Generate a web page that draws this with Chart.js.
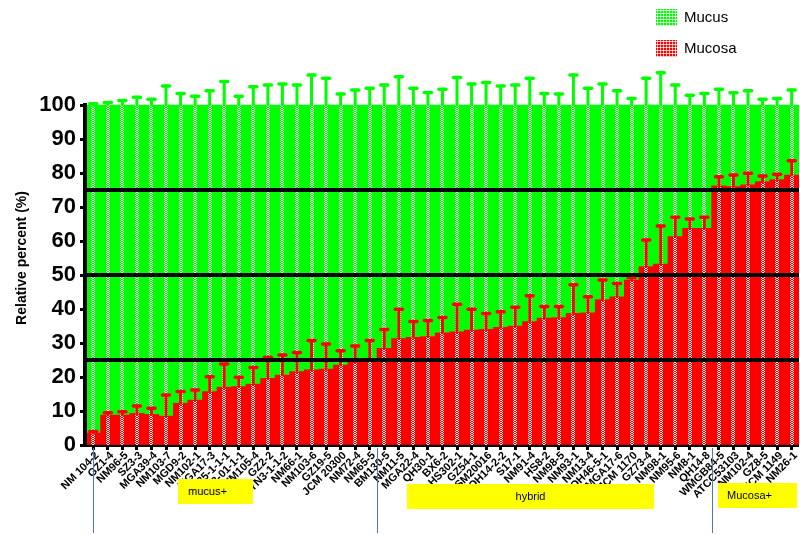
<!DOCTYPE html>
<html>
<head>
<meta charset="utf-8">
<script src="https://cdn.jsdelivr.net/npm/chart.js@4.4.1/dist/chart.umd.min.js"></script>
<style>
  html, body { margin: 0; padding: 0; background: #fff; }
  #wrap { position: relative; width: 800px; height: 535px; overflow: hidden;
          font-family: "Liberation Sans", Arial, sans-serif; }
  #wrap canvas { position: absolute; left: 0; top: 0; }
  .leg { position: absolute; left: 656px; height: 17px; width: 120px; }
  .leg .sw { position: absolute; left: 0; top: 0; width: 21px; height: 17px; box-sizing: border-box;
             background-image: radial-gradient(circle, rgba(255,255,255,0.95) 0.9px, transparent 1.3px);
             background-size: 3px 3px; }
  .leg span { position: absolute; left: 28px; top: -1px; font-size: 15px; line-height: 18px; color: #000; white-space: nowrap; }
  .grp { position: absolute; background: #ffff00; font-size: 11px; height: 25px; line-height: 25px; color: #000; white-space: nowrap; }
</style>
</head>
<body>
<div id="wrap">
  <canvas id="c" width="800" height="535"></canvas>
  <div class="leg" style="top:9px"><div class="sw" style="background-color:#00ff00"></div><span>Mucus</span></div>
  <div class="leg" style="top:40px"><div class="sw" style="background-color:#ff0000"></div><span>Mucosa</span></div>
  <div class="grp" style="left:178px;top:479px;width:75px;"><span style="padding-left:10px">mucus+</span></div>
  <div class="grp" style="left:407px;top:484px;width:247px;text-align:center;">hybrid</div>
  <div class="grp" style="left:718px;top:483px;width:79px;"><span style="padding-left:9px">Mucosa+</span></div>
</div>
<script>
// Strains on the x axis
const strains = ['NM 104-2','GZ1-4','NM96-5','SZ3-3','MGA39-4','NM103-7','MGD9-2','NM102-1','MGA17-3','YN35-1-1-1',
  'D13-01-1-1','NM105-4','GZ2-2','YN3-1-1-2','NM66-1','NM103-6','GZ19-5','JCM 20300','NM72-4','NM65-5',
  'BM130-5','NM11-5','MGA22-4','QH30-1','BX6-2','HS302-1','GZ54-1','DSM20016','QH14-2-2','S17-1',
  'NM91-4','HS8-2','NM98-5','NM93-1','NM13-4','QH46-5-1','MGA17-6','JCM 1170','GZ73-4','NM98-1',
  'NM95-6','NM8-1','QH14-8','WMGB84-5','ATCC53103','NM102-4','GZ8-5','JCM 1149','NM26-1'];

// Relative percent found in the mucosa fraction, and its upper error
const mucosa = [3.5, 8.8, 8.8, 9.3, 9.0, 8.5, 12.3, 13.2, 15.7, 17.0,
  17.2, 17.9, 19.6, 20.6, 21.6, 22.1, 22.3, 23.5, 24.5, 25.5,
  28.4, 31.3, 31.7, 31.9, 33.0, 33.3, 33.8, 34.0, 34.6, 35.0,
  36.3, 37.3, 37.5, 38.7, 38.9, 42.8, 43.6, 48.5, 52.5, 53.2,
  61.3, 63.7, 63.7, 76.2, 76.0, 76.5, 77.5, 78.1, 79.4];
const mucosaErr = [0.5, 0.7, 1.0, 2.2, 1.8, 6.2, 3.4, 3.0, 4.4, 6.8,
  2.7, 4.9, 6.2, 5.9, 5.6, 8.6, 7.4, 4.2, 4.6, 5.2,
  5.6, 8.6, 4.6, 4.7, 4.5, 8.1, 6.1, 4.7, 4.6, 5.5,
  7.6, 3.4, 3.2, 8.4, 4.7, 5.7, 3.9, 0.7, 7.8, 11.2,
  5.7, 2.8, 3.3, 2.7, 3.4, 3.4, 1.6, 1.5, 4.2];

// Relative percent found in the mucus fraction, and its upper error
const mucus = [96.5, 91.2, 91.2, 90.7, 91.0, 91.5, 87.7, 86.8, 84.3, 83.0,
  82.8, 82.1, 80.4, 79.4, 78.4, 77.9, 77.7, 76.5, 75.5, 74.5,
  71.6, 68.7, 68.3, 68.1, 67.0, 66.7, 66.2, 66.0, 65.4, 65.0,
  63.7, 62.7, 62.5, 61.3, 61.1, 57.2, 56.4, 51.5, 47.5, 46.8,
  38.7, 36.3, 36.3, 23.8, 24.0, 23.5, 22.5, 21.9, 20.6];
const mucusErr = [0.4, 0.7, 1.3, 2.3, 1.7, 5.6, 3.4, 2.6, 4.2, 6.9,
  2.6, 5.4, 5.9, 6.2, 5.9, 8.8, 7.9, 3.2, 4.4, 4.9,
  5.9, 8.3, 4.9, 3.7, 4.6, 8.1, 6.2, 6.6, 5.6, 5.9,
  7.9, 3.4, 3.2, 8.8, 4.9, 6.2, 4.2, 1.9, 7.9, 9.5,
  5.9, 2.9, 3.4, 4.6, 3.6, 4.2, 1.7, 1.9, 4.4];

// Threshold lines and y tick values
const thresholds = [25, 50, 75];
const yTicks = [0, 10, 20, 30, 40, 50, 60, 70, 80, 90, 100];

// First strain index of each group (mucus+, hybrid, Mucosa+)
const groupStarts = [0, 20, 43];

const FONT = '"Liberation Sans", Arial, sans-serif';

// small white dotted texture used down the middle of every bar
const tex = document.createElement('canvas');
tex.width = 4; tex.height = 4;
(function () {
  const t = tex.getContext('2d');
  t.fillStyle = 'rgba(255,255,255,0.95)';
  const cells = ['.WW.', 'W..W', '.WW.', 'W..W'];
  cells.forEach((row, r) => { for (let c = 0; c < 4; c++) if (row[c] === 'W') t.fillRect(c, r, 1, 1); });
})();

const overlay = {
  id: 'overlay',
  afterDatasetsDraw(chart) {
    const { ctx, chartArea, scales: { x, y } } = chart;
    const lowBars = chart.getDatasetMeta(0).data;
    const highBars = chart.getDatasetMeta(1).data;
    const pattern = ctx.createPattern(tex, 'repeat');
    const base = y.getPixelForValue(0);

    // dotted stripe in the middle of each stacked bar
    ctx.save();
    lowBars.forEach((bar, i) => {
      const cx = Math.round(bar.x) - 2;
      const top = Math.round(highBars[i].y);
      ctx.save();
      ctx.translate(cx, 0);
      ctx.fillStyle = pattern;
      ctx.fillRect(0, top, 4, base - top);
      ctx.restore();
    });
    ctx.restore();

    // upper error bars
    function errorBar(px, v0, v1, color) {
      const y0 = y.getPixelForValue(v0), y1 = y.getPixelForValue(v1);
      ctx.strokeStyle = color;
      ctx.lineCap = 'round';
      ctx.lineWidth = 3;
      ctx.beginPath(); ctx.moveTo(px, y0); ctx.lineTo(px, y1); ctx.stroke();
      ctx.lineWidth = 3.5;
      ctx.beginPath(); ctx.moveTo(px - 3.5, y1); ctx.lineTo(px + 3.5, y1); ctx.stroke();
    }
    ctx.save();
    lowBars.forEach((bar, i) => {
      errorBar(bar.x, mucosa[i], mucosa[i] + mucosaErr[i], '#ff0000');
      const total = mucosa[i] + mucus[i];
      errorBar(bar.x, total, total + mucusErr[i], '#00ff00');
    });
    ctx.restore();

    // threshold lines
    ctx.save();
    ctx.fillStyle = '#000';
    thresholds.forEach(v => {
      const yy = y.getPixelForValue(v);
      ctx.fillRect(chartArea.left, yy - 2, chartArea.right - chartArea.left, 4);
    });
    // y axis line from 0 to 100
    const yTop = y.getPixelForValue(100);
    ctx.fillRect(chartArea.left - 3, yTop - 2, 4, base - yTop + 4);
    ctx.restore();

    // group separators under the axis
    ctx.save();
    ctx.strokeStyle = '#4a78b8';
    ctx.lineWidth = 1;
    groupStarts.forEach((s, k) => {
      const px = k === 0 ? x.getPixelForValue(0)
        : (x.getPixelForValue(s - 1) + x.getPixelForValue(s)) / 2;
      ctx.beginPath();
      ctx.moveTo(Math.round(px) + 0.5, chartArea.bottom + 3);
      ctx.lineTo(Math.round(px) + 0.5, 533);
      ctx.stroke();
    });
    ctx.restore();
  }
};

new Chart(document.getElementById('c'), {
  type: 'bar',
  data: {
    labels: strains,
    datasets: [
      { label: 'Mucosa', data: mucosa, backgroundColor: '#ff0000', stack: 's', borderWidth: 0 },
      { label: 'Mucus', data: mucus, backgroundColor: '#00ff00', stack: 's', borderWidth: 0 }
    ]
  },
  options: {
    responsive: false,
    animation: false,
    layout: { padding: { top: 71, left: 0, right: 0, bottom: 0 } },
    plugins: { legend: { display: false }, tooltip: { enabled: false } },
    datasets: { bar: { categoryPercentage: 1, barPercentage: 1 } },
    scales: {
      x: {
        stacked: true,
        offset: true,
        grid: { display: true, drawOnChartArea: false, offset: false, tickLength: 5, tickWidth: 3, tickColor: '#000', color: '#000' },
        border: { display: true, color: '#000', width: 4 },
        ticks: { autoSkip: false, maxRotation: 45, minRotation: 45, padding: -1, labelOffset: 4, color: '#000',
                 font: { family: FONT, size: 11, weight: 'bold' } },
        afterFit(s) { s.height = 90; }
      },
      y: {
        stacked: true,
        min: 0, max: 110,
        afterBuildTicks(s) { s.ticks = yTicks.map(v => ({ value: v })); },
        grid: { display: true, drawOnChartArea: false, tickLength: 6, tickWidth: 3, tickColor: '#000' },
        border: { display: false },
        ticks: { padding: 4, color: '#000', font: { family: FONT, size: 22, weight: 'bold' } },
        title: { display: true, text: 'Relative percent (%)', color: '#000',
                 font: { family: FONT, size: 14, weight: 'bold' }, padding: { top: 14, bottom: 0 } },
        afterFit(s) { s.width = 86; }
      }
    }
  },
  plugins: [overlay]
});
</script>
</body>
</html>
